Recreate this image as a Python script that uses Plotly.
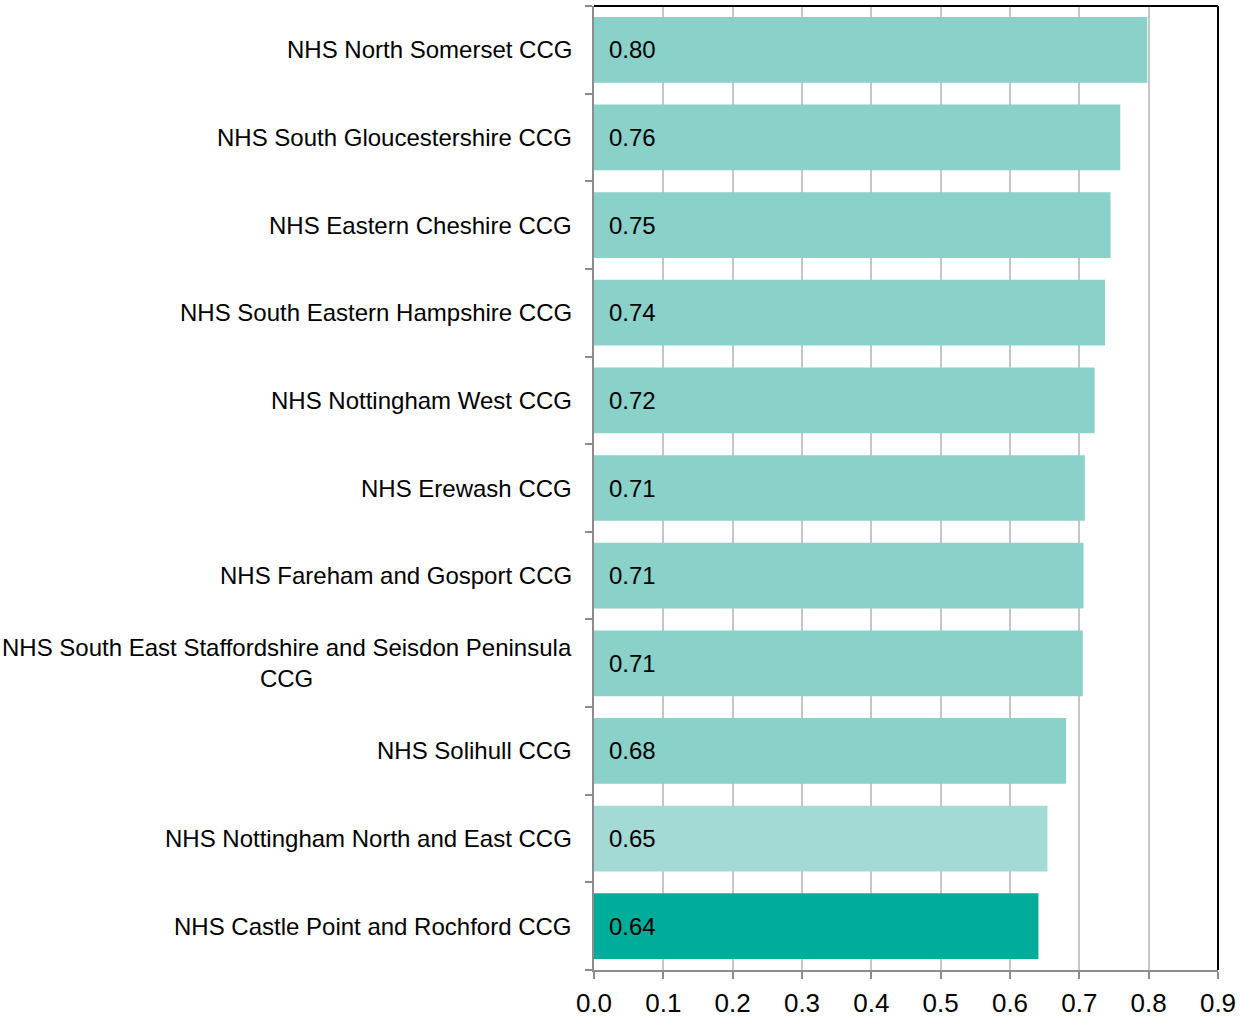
import plotly.graph_objects as go

categories = [
    "NHS North Somerset CCG",
    "NHS South Gloucestershire CCG",
    "NHS Eastern Cheshire CCG",
    "NHS South Eastern Hampshire CCG",
    "NHS Nottingham West CCG",
    "NHS Erewash CCG",
    "NHS Fareham and Gosport CCG",
    "NHS South East Staffordshire and Seisdon Peninsula<br>CCG",
    "NHS Solihull CCG",
    "NHS Nottingham North and East CCG",
    "NHS Castle Point and Rochford CCG",
]
values = [0.798, 0.759, 0.745, 0.737, 0.722, 0.708, 0.706, 0.705, 0.681, 0.654, 0.641]
value_labels = ["0.80", "0.76", "0.75", "0.74", "0.72", "0.71", "0.71", "0.71", "0.68", "0.65", "0.64"]
bar_colors = ["#8AD1C9"] * 9 + ["#A3DAD5", "#00AC9A"]
x_ticks = [0.0, 0.1, 0.2, 0.3, 0.4, 0.5, 0.6, 0.7, 0.8, 0.9]

pos = list(range(len(categories)))

fig = go.Figure()
fig.add_trace(go.Bar(
    x=values,
    y=pos,
    orientation="h",
    marker=dict(color=bar_colors, line=dict(width=0)),
    hoverinfo="skip",
))

# value labels at the start of each bar
for p, lab in zip(pos, value_labels):
    fig.add_annotation(x=0, y=p, text=lab, showarrow=False, xanchor="left",
                       xshift=13, font=dict(size=24, color="black"))

# category labels (centered multi-line, right edge next to axis)
for p, cat in zip(pos, categories):
    fig.add_annotation(x=0, y=p, xref="x", text=cat, showarrow=False,
                       xanchor="right", align="center", xshift=-20,
                       font=dict(size=24, color="black"))

# black frame on top and right
fig.add_shape(type="line", xref="paper", yref="paper", x0=0, x1=1, y0=1, y1=1,
              line=dict(color="black", width=2))
fig.add_shape(type="line", xref="paper", yref="paper", x0=1, x1=1, y0=0, y1=1,
              line=dict(color="black", width=2))

fig.update_layout(
    width=1240,
    height=1017,
    margin=dict(l=594, r=22, t=6, b=47),
    plot_bgcolor="white",
    paper_bgcolor="white",
    showlegend=False,
    bargap=0.25,
    font=dict(family="Liberation Sans, Arial, sans-serif", color="black"),
    xaxis=dict(
        range=[0, 0.9],
        tickvals=x_ticks,
        ticktext=[f"{t:.1f}" for t in x_ticks],
        tickfont=dict(size=26),
        ticklabelstandoff=2,
        automargin=False,
        showgrid=True,
        gridcolor="#C6C6C6",
        gridwidth=2,
        zeroline=False,
        showline=True,
        linecolor="#8C8C8C",
        linewidth=2,
        ticks="outside",
        ticklen=7,
        tickwidth=2,
        tickcolor="#8C8C8C",
    ),
    yaxis=dict(
        range=[len(categories) - 0.5, -0.5],
        tickvals=[i - 0.5 for i in range(len(categories) + 1)],
        showticklabels=False,
        automargin=False,
        showgrid=False,
        zeroline=False,
        showline=True,
        linecolor="#8C8C8C",
        linewidth=2,
        ticks="outside",
        ticklen=7,
        tickwidth=2,
        tickcolor="#8C8C8C",
    ),
)

fig.write_html("out.html", config={"displayModeBar": False},
               post_script="document.body.style.margin='0';")
